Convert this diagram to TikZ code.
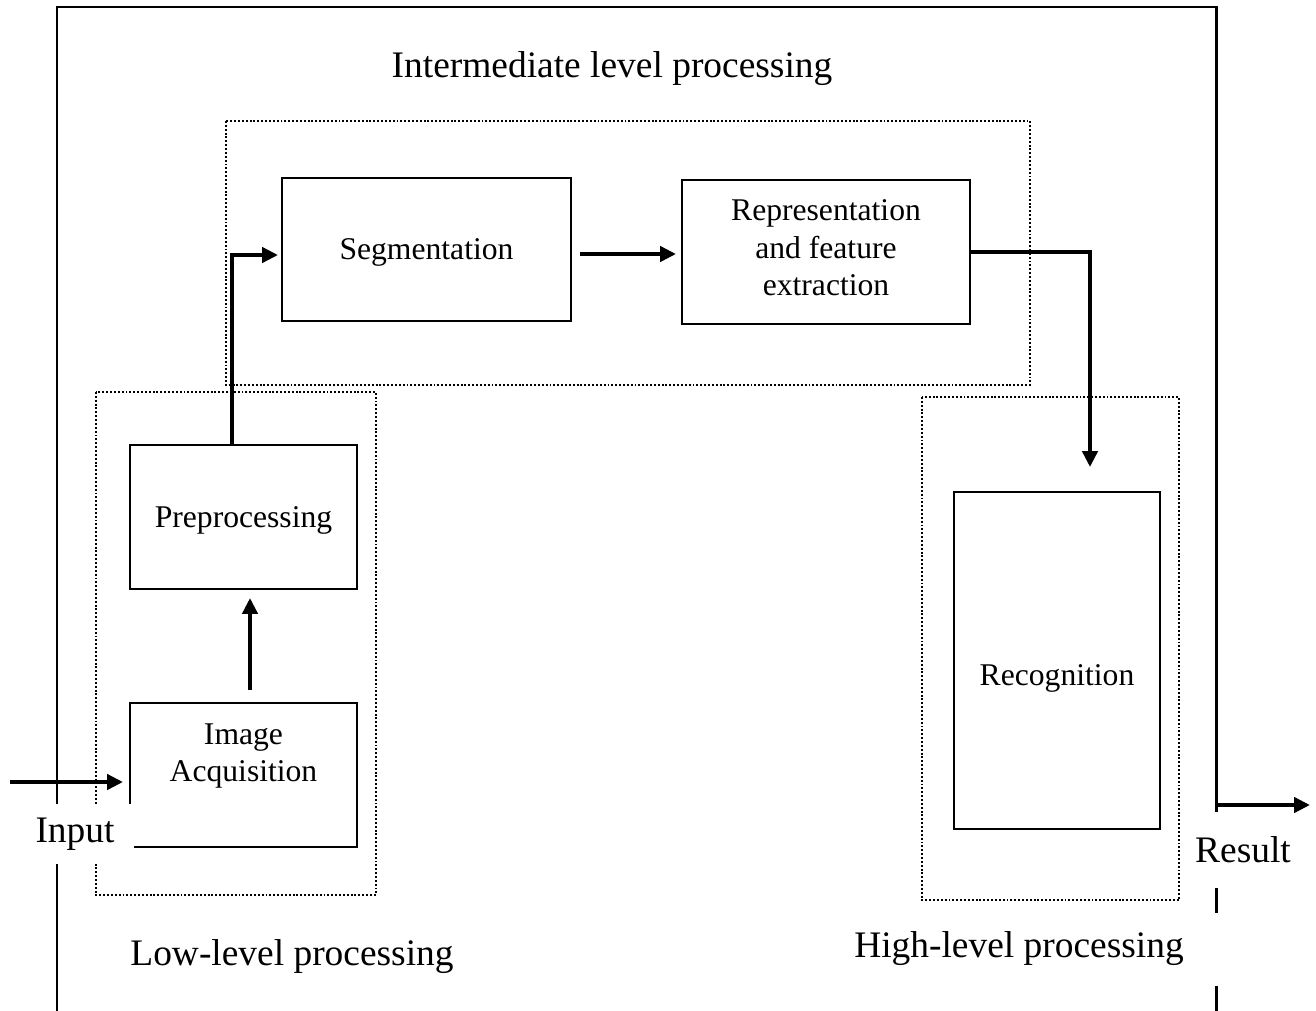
\documentclass[tikz,border=0pt]{standalone}
\usepackage{fontspec}
\setmainfont{Liberation Serif}
\usetikzlibrary{arrows.meta}

\begin{document}
\begin{tikzpicture}[x=0.02cm, y=-0.02cm,
  every node/.style={outer sep=0pt},
  box/.style={draw, line width=1.1pt, align=center, font=\fontsize{18}{21.3}\selectfont},
  boxtext/.style={align=center, font=\fontsize{18}{21.3}\selectfont},
  lbl/.style={inner sep=0pt, font=\fontsize{21.3}{25}\selectfont},
  zone/.style={line width=0.9pt, dash pattern=on 1.1pt off 1.1pt},
  flow/.style={line width=2.6pt, -{Triangle[length=9pt,width=8.5pt]}},
  frame/.style={line width=1.7pt}]
\useasboundingbox (0,0) rectangle (1316,1011);

% outer frame
\draw[frame] (57,1011) -- (57,7) -- (1216,7) -- (1216,1011);

% dotted zones
\draw[zone] (226,121) rectangle (1030,385);
\draw[zone] (96,392) rectangle (376,895);
\draw[zone] (922,397) rectangle (1179,900);

% stages
\node[box, text depth=0pt, minimum width=5.78cm, minimum height=2.86cm] (seg) at (426.5,249.5) {Segmentation};
\node[box, minimum width=5.76cm, minimum height=2.88cm] (rep) at (826,252) {};
\node[boxtext] (reptext) at (826,248) {Representation\\and feature\\extraction};
\node[box, text depth=0pt, minimum width=4.54cm, minimum height=2.88cm] (pre) at (243.5,517) {Preprocessing};
\node[box, minimum width=4.54cm, minimum height=2.88cm] (acq) at (243.5,775) {};
\node[boxtext] (acqtext) at (243.5,756) {Image\\Acquisition};
\node[box, minimum width=4.12cm, minimum height=6.74cm] (rec) at (1057,660.5) {};
\node[boxtext] (rectext) at (1057,678) {Recognition};

% arrows
\coordinate (in) at (10,782);
\draw[flow, shorten >=0.14cm] (in) -- (in -| acq.west);
\draw[flow, shorten <=0.26cm, shorten >=0.18cm] ([shift={(6.5,0)}]acq.north) -- ([shift={(6.5,0)}]pre.south);
\draw[flow, shorten >=0.08cm] ([shift={(-11.5,0)}]pre.north) |- ([shift={(0,5.5)}]seg.west);
\draw[flow, shorten <=0.18cm, shorten >=0.12cm] ([shift={(0,4.5)}]seg.east) coordinate (s1) -- (s1 -| rep.west);
\draw[flow] (rep.east) -| ([shift={(33,-25)}]rec.north);
\coordinate (res) at (1216,805);
\coordinate (out) at (1310,805);
\draw[flow] (res) -- (out);

% labels
\node[lbl] (midlbl) at (612,69) {Intermediate level processing};
\node[lbl] (lowlbl) at (292,957) {Low-level processing};
\node[lbl, fill=white, minimum width=8.04cm, minimum height=1.46cm] (highlbl) at (1019,949) {High-level processing};
\node[lbl, fill=white, minimum width=2.36cm, minimum height=1.2cm] (inlbl) at (75,834) {Input};
\node[lbl, fill=white, minimum width=2cm, minimum height=1.52cm] (reslbl) at (1243,850) {Result};
\end{tikzpicture}
\end{document}
